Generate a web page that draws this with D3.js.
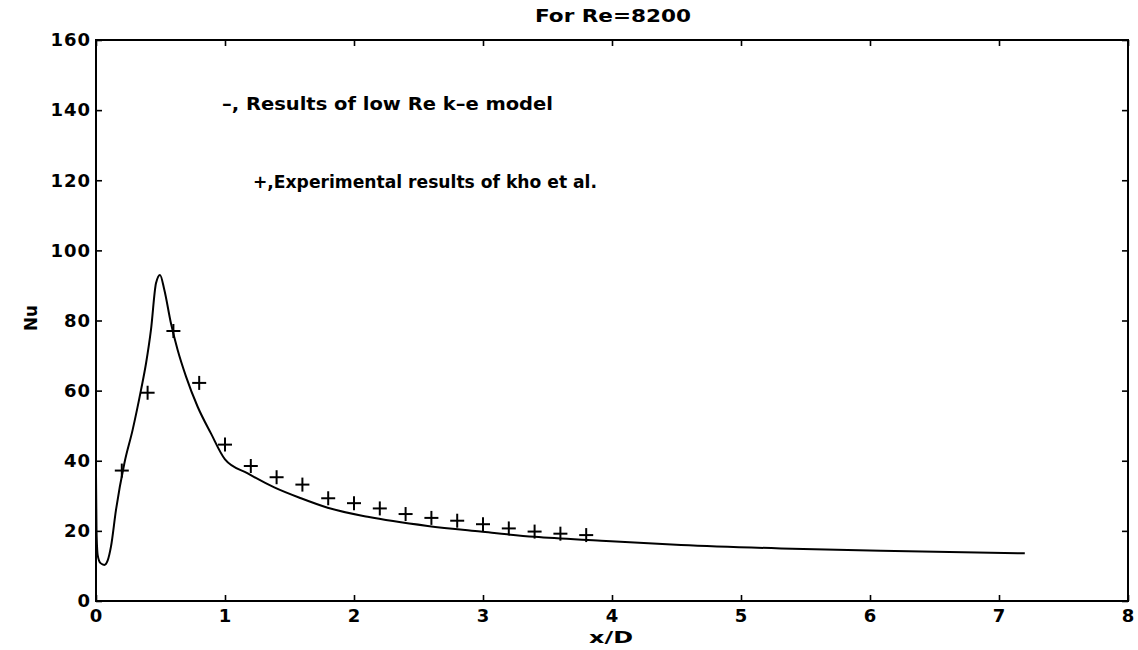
<!DOCTYPE html>
<html>
<head>
<meta charset="utf-8">
<script src="https://cdn.jsdelivr.net/npm/d3@7"></script>
<style>
  html, body { margin: 0; padding: 0; background: #fff; }
  svg text { font-family: "DejaVu Sans", "Liberation Sans", Arial, sans-serif; fill: #000; font-weight: bold; }
</style>
</head>
<body>
<svg id="chart" width="1138" height="650"></svg>
<script>
// Low-Re k-e model prediction: x/D and Nu along the wall
const modelX  = [0, 0.004, 0.013, 0.035, 0.065, 0.09, 0.116, 0.155, 0.22, 0.284, 0.349, 0.388, 0.426, 0.465, 0.496, 0.53, 0.581, 0.633, 0.698, 0.788, 0.891, 1.0, 1.176, 1.382, 1.589, 1.796, 2.106, 2.571, 2.98, 3.40, 3.915, 4.535, 5.31, 6.085, 7.2];
const modelNu = [36, 20, 13.1, 10.8, 10.3, 11.5, 15.5, 26, 39.3, 48.8, 60.2, 67.8, 77.3, 90.6, 93.0, 88.7, 79.2, 71.6, 64, 55.4, 47.8, 40.4, 36.4, 32.4, 29.3, 26.6, 24.0, 21.4, 19.8, 18.3, 17.2, 16.0, 15.0, 14.3, 13.6];

// Experimental results (Kho et al.)
const expX  = [0.2, 0.4, 0.6, 0.8, 1.0, 1.2, 1.4, 1.6, 1.8, 2.0, 2.2, 2.4, 2.6, 2.8, 3.0, 3.2, 3.4, 3.6, 3.8];
const expNu = [37.2, 59.4, 77.0, 62.2, 44.6, 38.5, 35.3, 33.2, 29.3, 27.9, 26.4, 24.8, 23.7, 22.9, 21.9, 20.7, 19.8, 19.2, 18.8];

const xTicks = [0, 1, 2, 3, 4, 5, 6, 7, 8];
const yTicks = [0, 20, 40, 60, 80, 100, 120, 140, 160];

const titleText = "For Re=8200";
const xLabel = "x/D";
const yLabel = "Nu";
const legendLine = "\u2013, Results of low Re k\u2013e model";
const legendPlus = "+,Experimental results of kho et al.";

const margin = { left: 96, right: 10, top: 40, bottom: 49 };
const W = 1138, H = 650;
const svg = d3.select("#chart");

const x = d3.scaleLinear().domain([0, 8]).range([margin.left, W - margin.right]);
const y = d3.scaleLinear().domain([0, 160]).range([H - margin.bottom, margin.top]);

const tickLen = 6;

// Frame
svg.append("rect")
  .attr("x", x(0)).attr("y", y(160))
  .attr("width", x(8) - x(0)).attr("height", y(0) - y(160))
  .attr("fill", "none").attr("stroke", "#000").attr("stroke-width", 2);

// Bottom & top axes (ticks pointing inward)
const xAxisB = d3.axisBottom(x).tickValues(xTicks).tickSize(-tickLen).tickPadding(7).tickFormat(d3.format("d"));
const gxb = svg.append("g").attr("transform", `translate(0,${y(0)})`).call(xAxisB);
const xAxisT = d3.axisTop(x).tickValues(xTicks).tickSize(-tickLen).tickFormat("");
const gxt = svg.append("g").attr("transform", `translate(0,${y(160)})`).call(xAxisT);

// Left & right axes
const yAxisL = d3.axisLeft(y).tickValues(yTicks).tickSize(-tickLen).tickPadding(5).tickFormat(d3.format("d"));
const gyl = svg.append("g").attr("transform", `translate(${x(0)},0)`).call(yAxisL);
const yAxisR = d3.axisRight(y).tickValues(yTicks).tickSize(-tickLen).tickFormat("");
const gyr = svg.append("g").attr("transform", `translate(${x(8)},0)`).call(yAxisR);

[gxb, gxt, gyl, gyr].forEach(g => {
  g.select(".domain").remove();
  g.selectAll(".tick line").attr("stroke", "#000").attr("stroke-width", 1.6);
  g.selectAll(".tick text")
    .style("font-family", "'DejaVu Sans', 'Liberation Sans', Arial, sans-serif")
    .style("font-size", "18px").style("font-weight", "bold")
    .style("letter-spacing", "1px").attr("fill", "#000");
});
gxb.selectAll(".tick text").attr("dy", "0.75em");

// Model curve
const line = d3.line()
  .x((d, i) => x(modelX[i]))
  .y((d, i) => y(modelNu[i]))
  .curve(d3.curveMonotoneX);
svg.append("path")
  .datum(modelNu)
  .attr("d", line)
  .attr("fill", "none").attr("stroke", "#000").attr("stroke-width", 2)
  .attr("stroke-linejoin", "round");

// Experimental markers
const half = 7;
const marks = svg.append("g").attr("stroke", "#000").attr("stroke-width", 2);
expX.forEach((xv, i) => {
  const cx = x(xv), cy = y(expNu[i]);
  marks.append("line").attr("x1", cx - half).attr("x2", cx + half).attr("y1", cy).attr("y2", cy);
  marks.append("line").attr("x1", cx).attr("x2", cx).attr("y1", cy - half).attr("y2", cy + half);
});

// Title and axis labels
svg.append("text").attr("x", 613).attr("y", 22)
  .attr("text-anchor", "middle").style("font-size", "17px")
  .attr("textLength", 156).attr("lengthAdjust", "spacingAndGlyphs")
  .text(titleText);
svg.append("text").attr("x", 611).attr("y", 643)
  .attr("text-anchor", "middle").style("font-size", "16px")
  .attr("textLength", 44).attr("lengthAdjust", "spacingAndGlyphs")
  .text(xLabel);
svg.append("text")
  .attr("transform", `translate(37,318) rotate(-90)`)
  .attr("text-anchor", "middle").style("font-size", "18px")
  .attr("textLength", 26).attr("lengthAdjust", "spacingAndGlyphs")
  .text(yLabel);

// In-plot legend notes
svg.append("text").attr("x", 222).attr("y", 110)
  .style("font-size", "18px")
  .attr("textLength", 331).attr("lengthAdjust", "spacingAndGlyphs")
  .text(legendLine);
svg.append("text").attr("x", 253).attr("y", 188)
  .style("font-size", "18px")
  .attr("textLength", 344).attr("lengthAdjust", "spacingAndGlyphs")
  .text(legendPlus);
</script>
</body>
</html>
